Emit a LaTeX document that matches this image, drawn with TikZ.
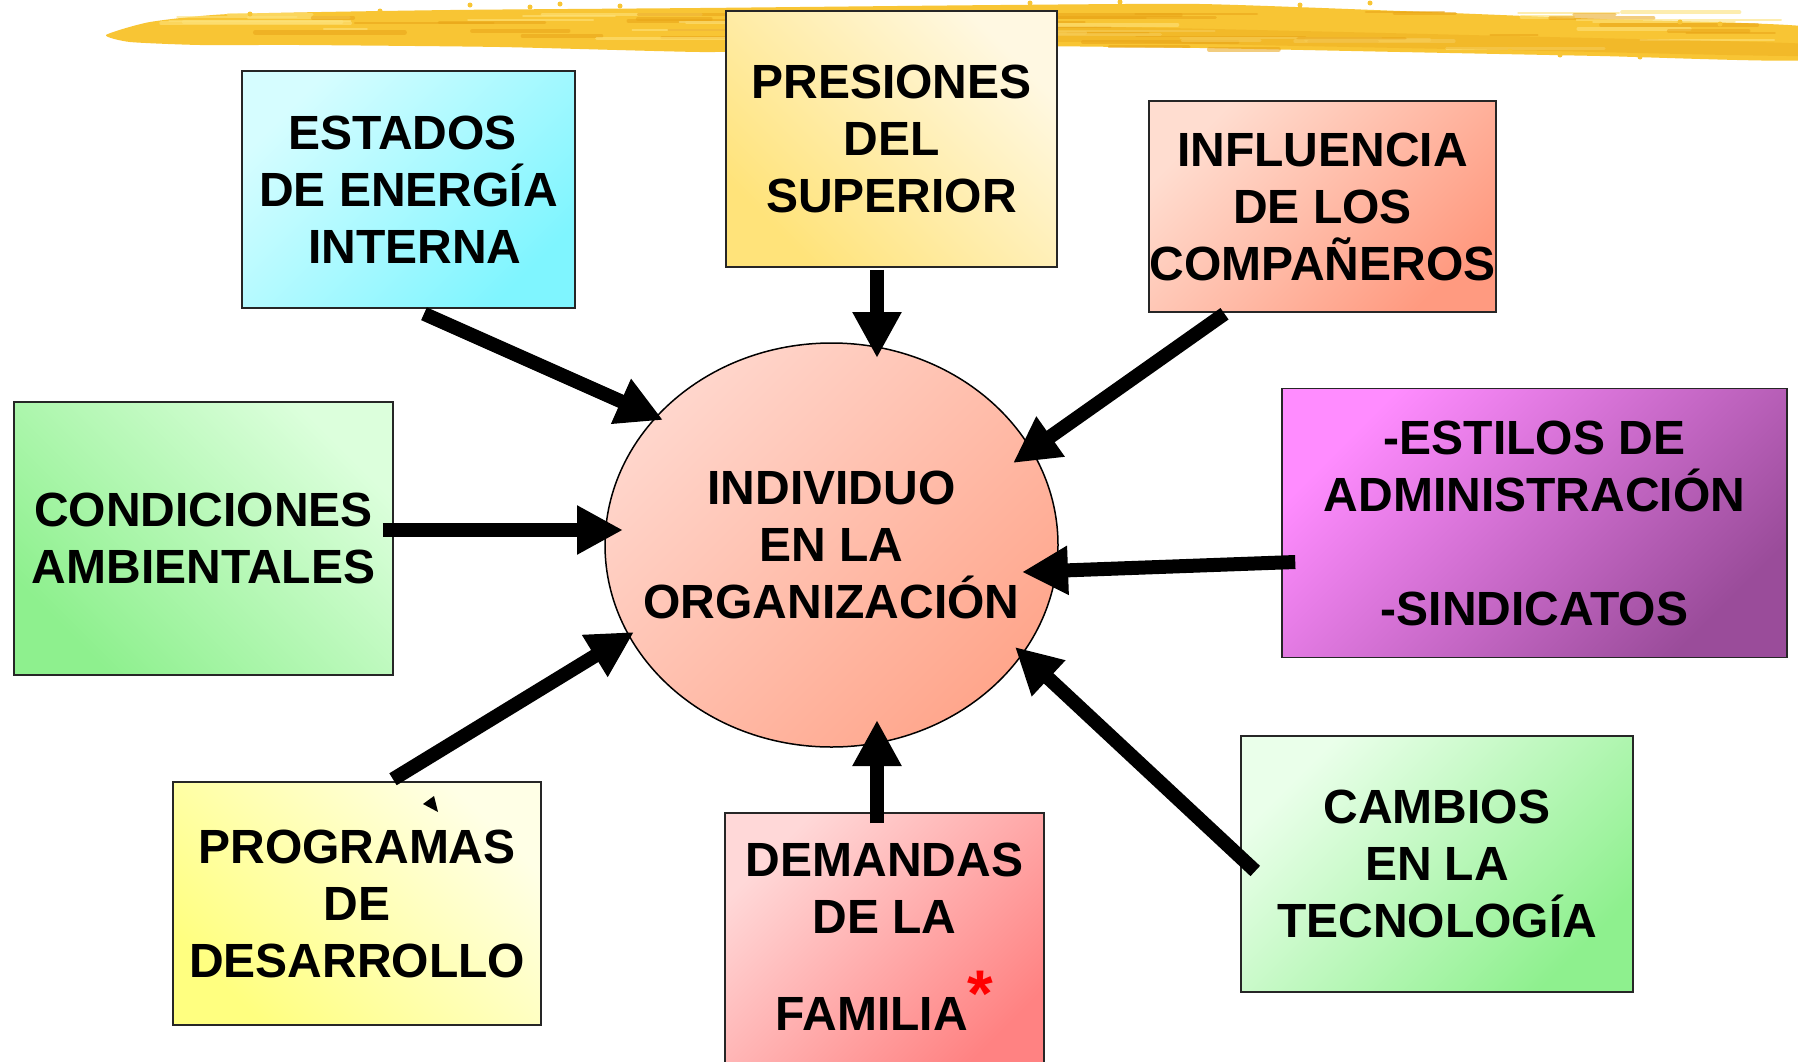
\documentclass[tikz,border=0pt]{standalone}
\usepackage{fontspec}
\setmainfont{Liberation Sans}
\usetikzlibrary{shapes.geometric,arrows.meta,calc}
\definecolor{brushA}{HTML}{F8C534}
\definecolor{brushB}{HTML}{E9A417}
\definecolor{brushC}{HTML}{FDE27A}
\definecolor{cyanL}{HTML}{D6FDFF}
\definecolor{cyanD}{HTML}{7FF5FF}
\definecolor{yelL}{HTML}{FFF8E2}
\definecolor{yelD}{HTML}{FFE37A}
\definecolor{salL}{HTML}{FFDDD0}
\definecolor{salD}{HTML}{FF9A80}
\definecolor{grnL}{HTML}{DCFFDC}
\definecolor{grnD}{HTML}{8EF08E}
\definecolor{magL}{HTML}{FF8CFF}
\definecolor{magD}{HTML}{9A4C9A}
\definecolor{lemL}{HTML}{FFFFE6}
\definecolor{lemD}{HTML}{FFFF80}
\definecolor{pnkL}{HTML}{FFD8D8}
\definecolor{pnkD}{HTML}{FF8282}
\definecolor{ellL}{HTML}{FFD6CC}
\definecolor{ellD}{HTML}{FFA68C}
\newcommand\tp{\rule{0pt}{0.95em}}
\newcommand\bt{\rule[-0.25em]{0pt}{0.25em}}
\newcommand\zl[1]{\makebox[0pt][c]{#1}}
\begin{document}
\begin{tikzpicture}[x=1pt,y=-1pt,
  box/.style={draw=black!85, line width=1.5pt, inner sep=0pt, rectangle,
    font=\fontsize{48}{57}\selectfont\bfseries, align=center},
  arr/.style={line width=14pt, -{Triangle[length=46pt,width=46pt]}}]
\useasboundingbox (0,0) rectangle (1798,1061);
\fill[white] (0,0) rectangle (1798,1061);
% brush stroke
\fill[brushA] plot[smooth cycle, tension=0.35] coordinates {(106,35) (150,22) (230,14) (450,10) (700,8) (1000,5) (1200,4) (1400,11) (1600,19) (1810,27) (1810,60) (1600,56) (1400,52) (1200,48) (1000,46) (800,50) (700,52) (500,47) (300,45) (200,45) (130,42)};
\pgfmathsetseed{11}
\foreach \i in {1,...,70} {
  \pgfmathsetmacro\xa{rnd*1550+160}
  \pgfmathsetmacro\ln{rnd*170+40}
  \pgfmathsetmacro\yy{(\xa<1000) ? (14+rnd*28) : (12+rnd*38)}
  \pgfmathsetmacro\lw{rnd*3+1.5}
  \pgfmathtruncatemacro\cc{rnd*2}
  \ifnum\cc=0
    \draw[brushB, opacity=.55, line width=\lw pt, line cap=round] (\xa,\yy) -- ++(\ln,0);
  \else
    \draw[brushC, opacity=.6, line width=\lw pt, line cap=round] (\xa,\yy) -- ++(\ln,0);
  \fi
}
\fill[brushB, opacity=.35] plot[smooth cycle, tension=0.4] coordinates {(900,30) (1100,27) (1300,31) (1550,37) (1810,44) (1810,56) (1550,51) (1300,46) (1100,42) (900,41)};
\foreach \p in {(470,5),(530,7),(560,4),(1030,3),(1370,3),(1510,51),(1560,55),(1640,57),(1680,22),(1720,24),(250,14),(380,11),(620,6),(700,48),(760,50),(1120,2),(1300,5)}
  \fill[brushA] \p circle (2.5pt);
% boxes
\node[box, minimum width=333pt, minimum height=237pt, top color=cyanL, bottom color=cyanD, shading angle=45] (estados) at (408.5,189.5) {\tp ESTADOS\hspace*{12pt}\\ DE ENERGÍA\hspace*{4pt}\\ \hspace*{13pt}INTERNA\bt};
\node[box, minimum width=331pt, minimum height=256pt, top color=yelL, bottom color=yelD, shading angle=-45] (pres) at (891.5,139) {\tp PRESIONES\\ DEL\\ SUPERIOR\bt};
\node[box, minimum width=347pt, minimum height=211pt, top color=salL, bottom color=salD, shading angle=45] (infl) at (1322.5,206.5) {\tp INFLUENCIA\\ DE LOS\\ COMPAÑEROS\bt};
\node[box, minimum width=379pt, minimum height=273pt, top color=grnL, bottom color=grnD, shading angle=-45] (cond) at (203.5,538.5) {\tp CONDICIONES\\ AMBIENTALES\bt};
\node[box, minimum width=505pt, minimum height=269pt, top color=magL, bottom color=magD, shading angle=45] (estilos) at (1534.5,523) {\tp -ESTILOS DE\\ ADMINISTRACIÓN\\[57pt] -SINDICATOS\bt};
\node[box, minimum width=368pt, minimum height=243pt, top color=lemL, bottom color=lemD, shading angle=-45] (prog) at (357,903.5) {\tp PROGRAMAS\\ DE\\ DESARROLLO\bt};
\node[box, minimum width=319pt, minimum height=262pt, top color=pnkL, bottom color=pnkD, shading angle=45] (dem) at (884.5,944) {\tp DEMANDAS\\ DE LA\\[40pt] FAMILIA\smash{\raisebox{14pt}{\color{red}\fontsize{66}{66}\selectfont *}}\rule[-26pt]{0pt}{26pt}};
\node[box, minimum width=392pt, minimum height=256pt, top color=grnL!60!white, bottom color=grnD, shading angle=45] (camb) at (1437,864) {\tp CAMBIOS\\ EN LA\\ TECNOLOGÍA\bt};
% central ellipse
\node[ellipse, draw=black, line width=1.5pt, inner sep=0pt, minimum width=453pt, minimum height=404pt,
  top color=ellL, bottom color=ellD, shading angle=45,
  font=\fontsize{48}{57}\selectfont\bfseries, align=center] (ind) at (831.5,545) {\tp\zl{INDIVIDUO}\\ \zl{EN LA}\\ \zl{ORGANIZACIÓN}\bt};
% arrows
\draw[arr] ($(estados.south)+(15.5,5)$) -- ($(ind.center)+(-168.5,-125)$);
\draw[arr] ($(pres.south)+(-14.5,2)$) -- ($(ind.center)+(45.5,-187)$);
\draw[arr] ($(infl.south)+(-98,1)$) -- ($(ind.center)+(181.5,-82)$);
\draw[arr] ($(cond.east)+(-11,-8.5)$) -- ($(ind.center)+(-208.5,-15)$);
\draw[arr] ($(estilos.west)+(14,39)$) -- ($(ind.center)+(190.5,27)$);
\draw[arr] ($(prog.north)+(36,-2)$) -- ($(ind.center)+(-197.5,87)$);
\draw[arr] ($(dem.north)+(-7.5,11)$) -- ($(ind.center)+(45.5,175)$);
\draw[arr] ($(camb.west)+(15,7)$) -- ($(ind.center)+(183.5,102)$);
% stray arrowhead near PROGRAMAS
\fill[black] (423,804) -- (438,812) -- (434,796) -- cycle;
\end{tikzpicture}
\end{document}
